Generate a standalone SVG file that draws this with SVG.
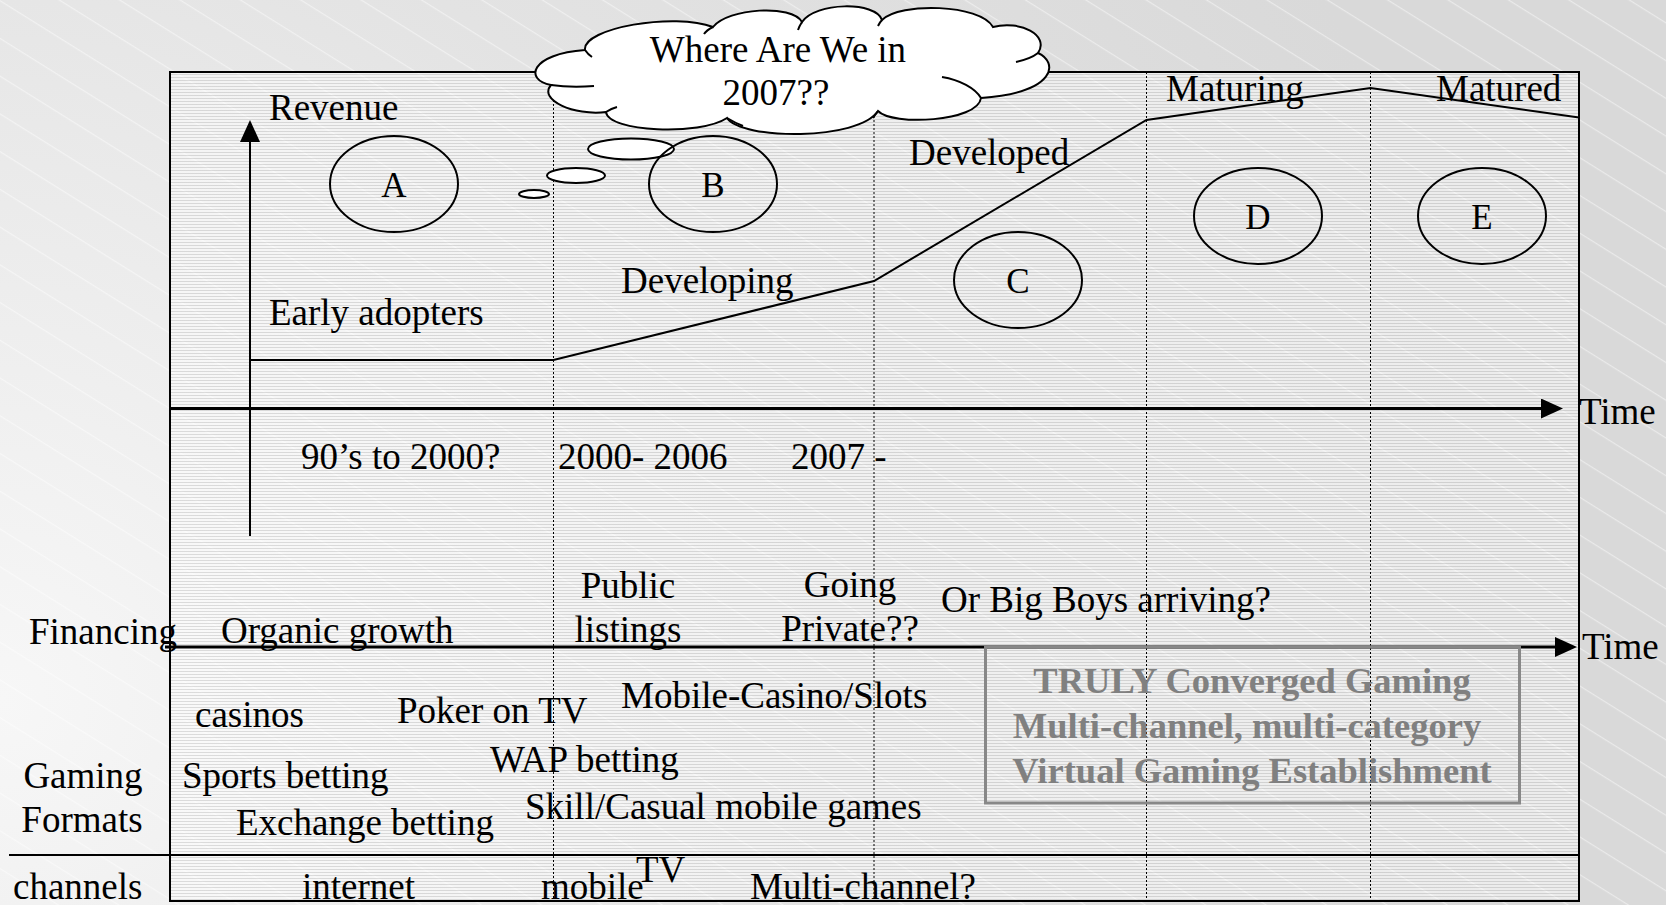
<svg xmlns="http://www.w3.org/2000/svg" width="1666" height="905" viewBox="0 0 1666 905">
<style>
text{font-family:"Liberation Serif","Times New Roman",serif;font-size:37px;fill:#000}
.lt{font-size:35px;text-anchor:middle}
.mid{text-anchor:middle}
.box{font-weight:bold;font-size:36.5px;fill:#808080;text-anchor:middle}
.circ{fill:none;stroke:#000;stroke-width:2}
.dot{stroke:#000;stroke-width:1;stroke-dasharray:2 2;fill:none}
.ax{stroke:#000;fill:none}
.bub{fill:#fff;stroke:#000;stroke-width:2}
.crease{fill:none;stroke:#000;stroke-width:2}
</style>
<defs>
<radialGradient id="bg" gradientUnits="userSpaceOnUse" cx="0" cy="700" r="1500">
<stop offset="0" stop-color="#f7f7f7"/>
<stop offset="0.55" stop-color="#e3e3e3"/>
<stop offset="1" stop-color="#d9d9d9"/>
</radialGradient>
<pattern id="diag" patternUnits="userSpaceOnUse" width="20" height="32" patternTransform="rotate(32)">
<rect x="0" y="0" width="20" height="1.2" fill="#ffffff" fill-opacity="0.45"/>
</pattern>
<pattern id="stripes" patternUnits="userSpaceOnUse" width="10" height="3">
<rect x="0" y="0" width="10" height="2" fill="#ffffff" fill-opacity="0.5"/>
<rect x="0" y="2" width="10" height="1" fill="#c8c8c8" fill-opacity="0.55"/>
</pattern>
<marker id="ah" markerUnits="userSpaceOnUse" markerWidth="22" markerHeight="20" refX="0" refY="10" orient="auto" viewBox="0 0 22 20">
<path d="M0,0 L22,10 L0,20 Z" fill="#000"/>
</marker>
</defs>

<g id="background">
<rect x="0" y="0" width="1666" height="905" fill="url(#bg)"/>
<rect x="0" y="0" width="1666" height="905" fill="url(#diag)"/>
<rect id="frame" x="170" y="72" width="1409" height="829" fill="url(#stripes)" stroke="#000" stroke-width="2"/>
</g>

<g id="connectors">
<line class="dot" x1="553.5" y1="72" x2="553.5" y2="901"/>
<line class="dot" x1="874" y1="72" x2="874" y2="901"/>
<line class="dot" x1="1146.5" y1="72" x2="1146.5" y2="901"/>
<line class="dot" x1="1370.5" y1="72" x2="1370.5" y2="901"/>
<polyline id="revenue-curve" class="ax" stroke-width="2" points="250,360 553.5,360 874,281 1146.5,120 1370.5,88 1579,117.5"/>
<line id="revenue-axis" class="ax" stroke-width="2" x1="250" y1="536" x2="250" y2="142" marker-end="url(#ah)"/>
<line id="time-axis-1" class="ax" stroke-width="3" x1="170" y1="408.5" x2="1541" y2="408.5" marker-end="url(#ah)"/>
<line id="time-axis-2" class="ax" stroke-width="3" x1="165" y1="647" x2="1555" y2="647" marker-end="url(#ah)"/>
<line id="channels-line" class="ax" stroke-width="2" x1="9" y1="855" x2="1579" y2="855"/>
</g>

<g id="thought">
<ellipse class="bub" cx="534" cy="194" rx="15" ry="4"/>
<ellipse class="bub" cx="576" cy="175.5" rx="29" ry="7.5"/>
<ellipse class="bub" cx="631" cy="149" rx="43" ry="10.5"/>
</g>

<g id="cloud">
<path class="bub" d="M585,50 C582,28 675,12 713,27 C728,8 792,4 802,22 C815,2 876,1 882,20 C900,2 980,4 993,27 C1020,20 1050,35 1038,53 C1058,62 1058,92 981,98 C978,122 892,126 878,111 C858,141 742,140 727,118 C700,136 608,132 606,112 C574,116 538,100 551,85 C524,80 530,54 585,50 Z"/>
<path class="crease" d="M585,50 C587,53 589,55 592,57"/>
<path class="crease" d="M713,27 C709,29 706,31 704,34"/>
<path class="crease" d="M802,22 C800,25 799,27 798,30"/>
<path class="crease" d="M882,20 C880,22 879,24 878,26"/>
<path class="crease" d="M1016,62 C1025,60 1033,57 1038,53"/>
<path class="crease" d="M942,77 C960,80 975,88 981,98"/>
<path class="crease" d="M878,111 C876,114 874,116 873,118"/>
<path class="crease" d="M727,118 C732,121 738,124 743,126"/>
<path class="crease" d="M551,85 C565,87 580,87 594,86"/>
<path class="crease" d="M606,112 C609,110 613,108 617,107"/>
<text class="mid" x="778" y="62">Where Are We in</text>
<text class="mid" x="776" y="105">2007??</text>
</g>

<g id="node-A"><ellipse class="circ" cx="394" cy="184" rx="64" ry="48"/><text class="lt" x="394" y="197">A</text></g>
<g id="node-B"><ellipse class="circ" cx="713" cy="184" rx="64" ry="48"/><text class="lt" x="713" y="197">B</text></g>
<g id="node-C"><ellipse class="circ" cx="1018" cy="280" rx="64" ry="48"/><text class="lt" x="1018" y="293">C</text></g>
<g id="node-D"><ellipse class="circ" cx="1258" cy="216" rx="64" ry="48"/><text class="lt" x="1258" y="229">D</text></g>
<g id="node-E"><ellipse class="circ" cx="1482" cy="216" rx="64" ry="48"/><text class="lt" x="1482" y="229">E</text></g>

<g id="stage-labels">
<text x="269" y="120">Revenue</text>
<text x="269" y="325">Early adopters</text>
<text x="621" y="293">Developing</text>
<text x="909" y="165">Developed</text>
<text x="1166" y="101">Maturing</text>
<text x="1436" y="101">Matured</text>
<text x="1579" y="424">Time</text>
<text x="1582" y="659">Time</text>
</g>

<g id="period-labels">
<text x="301" y="469">90’s to 2000?</text>
<text x="558" y="469">2000- 2006</text>
<text x="791" y="469">2007 -</text>
</g>

<g id="financing">
<text x="29" y="644">Financing</text>
<text x="221" y="643">Organic growth</text>
<text class="mid" x="628" y="598">Public</text>
<text class="mid" x="628" y="642">listings</text>
<text class="mid" x="850" y="597">Going</text>
<text class="mid" x="850" y="641">Private??</text>
<text x="941" y="612">Or Big Boys arriving?</text>
</g>

<g id="gaming-formats">
<text class="mid" x="83" y="788">Gaming</text>
<text class="mid" x="82" y="832">Formats</text>
<text x="195" y="727">casinos</text>
<text x="397" y="723">Poker on TV</text>
<text x="621" y="708">Mobile-Casino/Slots</text>
<text x="490" y="772">WAP betting</text>
<text x="182" y="788">Sports betting</text>
<text x="525" y="819">Skill/Casual mobile games</text>
<text x="236" y="835">Exchange betting</text>
</g>

<g id="converged-box">
<rect x="985.5" y="647" width="534" height="156" fill="none" stroke="#888" stroke-width="3"/>
<text class="box" x="1252" y="693">TRULY Converged Gaming</text>
<text class="box" x="1247" y="738">Multi-channel, multi-category</text>
<text class="box" x="1252" y="783">Virtual Gaming Establishment</text>
</g>

<g id="channels">
<text x="13" y="899">channels</text>
<text x="302" y="899">internet</text>
<text x="541" y="899">mobile</text>
<text x="636" y="882">TV</text>
<text x="750" y="899">Multi-channel?</text>
</g>
</svg>
